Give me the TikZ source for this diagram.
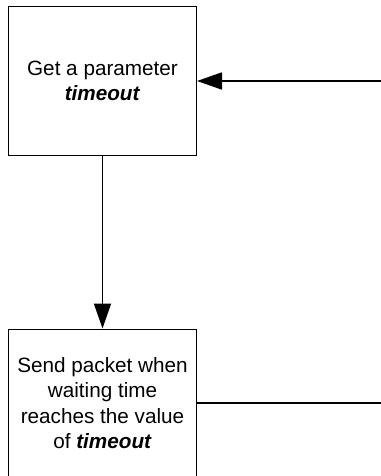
\documentclass[tikz,border=0pt]{standalone}
\usepackage{fontspec}
\setmainfont{Liberation Sans}
\usetikzlibrary{arrows.meta}

\tikzset{
  stepbox/.style = {draw, line width=1pt, minimum width=188pt, minimum height=148pt,
    inner sep=0pt, align=center, font=\fontsize{20.7}{25.5}\selectfont},
  flow/.style = {line width=1.8pt, -{Triangle[length=25pt,width=17pt]}}
}

\begin{document}
\begin{tikzpicture}[x=1pt, y=-1pt]
	\useasboundingbox (0,0) rectangle (380,476);

	\node[stepbox] (param) at (102.5,81) {Get a parameter\\ \textbf{\textit{timeout}}};
	\node[stepbox] (send) at (102.5,403) {Send packet when\\ waiting time\\ reaches the value\\ of \textbf{\textit{timeout}}};

	\coordinate (in) at (381,81);
	\coordinate (out) at (381,403);

	\draw[flow] (in) -- (param.east);
	\draw[flow] (param.south) -- (send.north);
	\draw[line width=1.8pt] (send.east) -- (out);
\end{tikzpicture}
\end{document}
